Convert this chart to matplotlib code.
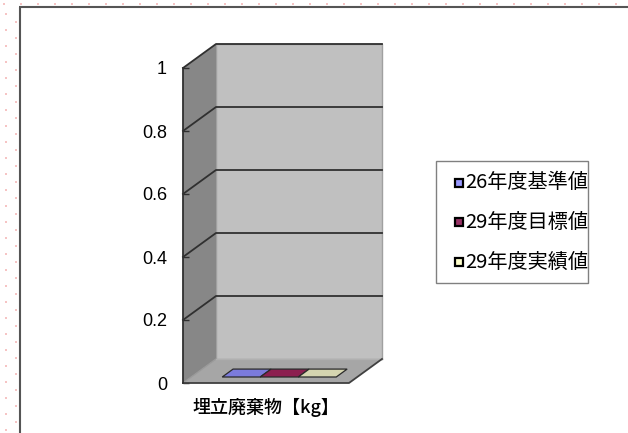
import numpy as np
import matplotlib
matplotlib.use("Agg")
import matplotlib.pyplot as plt
from matplotlib.patches import Polygon, Rectangle

plt.rcParams['font.family'] = ['Liberation Sans', 'Noto Sans CJK JP', 'DejaVu Sans']

# ---- data ----
categories = ['埋立廃棄物【kg】']
series_names = ['26年度基準値', '29年度目標値', '29年度実績値']
series_values = [0, 0, 0]
y_ticks = [0, 0.2, 0.4, 0.6, 0.8, 1]
y_tick_labels = ['0', '0.2', '0.4', '0.6', '0.8', '1']

# ---- style ----
bar_top_colors = ['#7b7bdc', '#8c1f50', '#d5d5b0']
legend_colors = ['#9999ff', '#993366', '#ffffcc']
W, H = 628, 433
fig = plt.figure(figsize=(W / 100, H / 100), dpi=100)

# overlay axes in pixel coordinates for decorations
ov = fig.add_axes([0, 0, 1, 1])
ov.set_xlim(0, W)
ov.set_ylim(H, 0)
ov.axis('off')

# pink dotted background pattern outside the chart frame
xs = np.arange(4, W, 17)
ov.scatter(xs, np.full_like(xs, 4, dtype=float), s=2.5, c='#f6c4c4', marker='s', lw=0)
ys = np.arange(14, H, 16)
ov.scatter(np.full_like(ys, 6, dtype=float), ys, s=2.5, c='#f6c4c4', marker='s', lw=0)
ov.scatter(np.full_like(ys, 16, dtype=float), ys + 8, s=2.5, c='#f6c4c4', marker='s', lw=0)
# chart frame
ov.plot([18.5, W], [7, 7], color='#555555', lw=1.5, solid_capstyle='butt')
ov.plot([19.5, 19.5], [7, H], color='#555555', lw=1.5, solid_capstyle='butt')

# ---- 3D-like plot axes (front plane) ----
fx0, fx1, fy_top, fy_bot = 183, 349, 68, 383
ax = fig.add_axes([fx0 / W, 1 - fy_bot / H, (fx1 - fx0) / W, (fy_bot - fy_top) / H])
ax.set_xlim(-0.5, 0.5)
ax.set_ylim(0, 1)
ax.patch.set_visible(False)
DX = 33 / (fx1 - fx0)
DY = 24 / (fy_bot - fy_top)

# back wall
ax.add_patch(Rectangle((-0.5 + DX, DY), 1, 1, fc='#c0c0c0', ec='#a0a0a0', lw=1, zorder=1, clip_on=False))
# side wall
ax.add_patch(Polygon([(-0.5, 0), (-0.5, 1), (-0.5 + DX, 1 + DY), (-0.5 + DX, DY)],
                     closed=True, fc='#878787', ec='none', zorder=1, clip_on=False))
# floor
ax.add_patch(Polygon([(-0.5, 0), (0.5, 0), (0.5 + DX, DY), (-0.5 + DX, DY)],
                     closed=True, fc='#a6a6a6', ec='none', zorder=1, clip_on=False))
ax.plot([-0.5, -0.5 + DX], [0, DY], color='#9a9a9a', lw=1, zorder=2, clip_on=False)
ax.plot([-0.5 + DX, 0.5 + DX], [DY, DY], color='#b0b0b0', lw=1, zorder=2, clip_on=False)
ax.plot([-0.5, 0.5, 0.5 + DX], [0, 0, DY], color='#404040', lw=1.3, zorder=3, clip_on=False)

# gridlines
for t in y_ticks[1:]:
    ax.plot([-0.5, -0.5 + DX, 0.5 + DX], [t, t + DY, t + DY], color='#303030', lw=1.3,
            zorder=3, clip_on=False)

# bars (flat at zero height)
bar_w = 0.229
group_center = 0.03
d0, d1 = 0.25, 0.58
n = len(series_names)
for i, v in enumerate(series_values):
    xl = group_center + (i - (n - 1) / 2) * bar_w - bar_w / 2
    xr = xl + bar_w
    top = [(xl + d0 * DX, v + d0 * DY), (xr + d0 * DX, v + d0 * DY),
           (xr + d1 * DX, v + d1 * DY), (xl + d1 * DX, v + d1 * DY)]
    if v > 0:
        ax.add_patch(Rectangle((xl + d0 * DX, d0 * DY), bar_w, v, fc=bar_top_colors[i],
                               ec='#333333', lw=0.8, zorder=4, clip_on=False))
    ax.add_patch(Polygon(top, closed=True, fc=bar_top_colors[i], ec='#2a2a2a', lw=0.9,
                         zorder=5, clip_on=False))

# axes styling
for s in ['top', 'right', 'bottom']:
    ax.spines[s].set_visible(False)
ax.spines['left'].set_color('#303030')
ax.spines['left'].set_linewidth(1.3)
ax.spines['left'].set_zorder(6)
ax.set_yticks(y_ticks)
ax.set_yticklabels(y_tick_labels)
ax.tick_params(axis='y', direction='in', length=4, width=1, color='#303030', pad=11.5,
               labelsize=13)
ax.set_xticks([0])
ax.set_xticklabels(categories, fontfamily=['Noto Sans CJK JP'], fontsize=13, fontweight='medium')
ax.tick_params(axis='x', length=0, pad=11)

# legend
ov.add_patch(Rectangle((437, 162), 152, 122, fc='#b0b0b0', ec='none', zorder=1))
ov.add_patch(Rectangle((436, 161), 152, 122, fc='white', ec='#808080', lw=1, zorder=2))
row_y = [183, 222, 262]
for i, name in enumerate(series_names):
    ov.add_patch(Rectangle((455, row_y[i] - 4), 8, 8, fc=legend_colors[i], ec='black',
                           lw=1.6, zorder=3))
    ov.text(465.5, row_y[i], name, fontfamily=['Noto Sans CJK JP'], fontsize=14.5,
            va='center', ha='left', zorder=3)

fig.savefig('out.png', dpi=100)
